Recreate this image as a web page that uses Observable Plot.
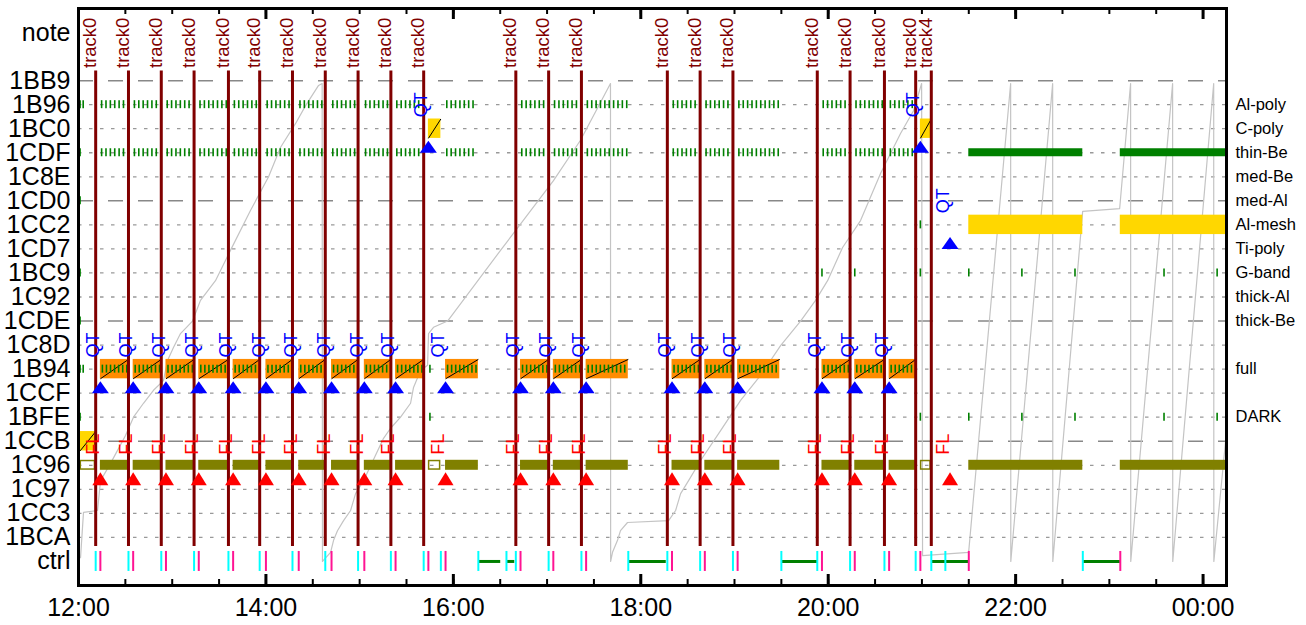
<!DOCTYPE html>
<html><head><meta charset="utf-8">
<script src="https://cdn.jsdelivr.net/npm/d3@7"></script>
<script src="https://cdn.jsdelivr.net/npm/@observablehq/plot@0.6"></script>
<style>body{margin:0;background:#fff;} svg{font-family:"Liberation Sans",Arial,sans-serif;}</style>
</head><body><div id="chart"></div>
<script>
// ---------- data ----------
const rows = ["ctrl","1BCA","1CC3","1C97","1C96","1CCB","1BFE","1CCF","1B94","1C8D","1CDE","1C92","1BC9","1CD7","1CC2","1CD0","1C8E","1CDF","1BC0","1B96","1BB9"];
const noteRow = "note";
const longDashRows = ["1BB9","1CD0","1CDE","1CCB"];
const filterLabels = [["Al-poly","1B96"],["C-poly","1BC0"],["thin-Be","1CDF"],["med-Be","1C8E"],["med-Al","1CD0"],["Al-mesh","1CC2"],["Ti-poly","1CD7"],["G-band","1BC9"],["thick-Al","1C92"],["thick-Be","1CDE"],["full","1B94"],["DARK","1BFE"]];
const xTickLabels = ["12:00","14:00","16:00","18:00","20:00","22:00","00:00"];
const xDomain = ["12:00","00:15"];

const tracks = [["12:11","track0"],["12:32","track0"],["12:53","track0"],["13:14","track0"],["13:36","track0"],["13:56","track0"],["14:17","track0"],["14:38","track0"],["14:59","track0"],["15:20","track0"],["15:41","track0"],["16:40","track0"],["17:01","track0"],["17:22","track0"],["18:17","track0"],["18:38","track0"],["18:59","track0"],["19:53","track0"],["20:14","track0"],["20:36","track0"],["20:56","track0"],["21:06","track4"]];

// regular cycles: QT start, end
const cycleStart = ["12:14","12:35","12:56","13:17","13:39","14:00","14:21","14:42","15:03","15:23","15:55","16:43","17:04","17:25","18:20","18:41","19:02","19:56","20:17","20:39"];
const cycleEnd   = ["12:32","12:53","13:14","13:36","13:56","14:17","14:38","14:59","15:20","15:41","16:16","17:01","17:22","17:52","18:38","18:59","19:29","20:14","20:36","20:56"];
// exposure offsets within a cycle (minutes after QT)
const fullOffsets = [1.3,3.9,6.5,9.1,11.7,14.3,16.9,19.5,22.1,24.7,27.3];
const polyOffsets = [0.8,3.6,6.4,9.2,12.0,14.8,17.6,20.4,23.2,26.0];

// special QT events: time, triangle row
const specialQT = [["15:44","1CDF"],["20:59","1CDF"],["21:18","1CD7"]];
const specialFL = [["21:18","1C97"]];

// small gold boxes [start,end,row]
const goldSmall = [["12:01","12:11","1CCB"],["15:44","15:52","1BC0"],["20:59","21:06","1BC0"]];
const oliveHollow = [["12:01","12:11"],["15:44","15:52"],["20:59","21:06"]];
// long blocks after 21:30
const longBlocks = [["21:30","22:43"],["23:07","00:15"]];

// single green ticks [time,row]
const singleTicks = [["12:01","1B96"],["12:03","1B96"],["12:01","1CDF"],["12:01","1CD0"],["12:01","1BC9"],["12:01","1CDE"],["12:01","1B94"],["12:03","1B94"],["12:01","1BFE"],
 ["15:45","1B94"],["15:45","1BFE"],["20:59","1CC2"],["20:59","1BFE"],["20:59","1BC9"],["20:36","1BC9"],["19:56","1BC9"],["20:17","1BC9"],
 ["21:30","1BC9"],["22:04","1BC9"],["22:38","1BC9"],["23:35","1BC9"],["00:09","1BC9"],
 ["21:30","1BFE"],["22:04","1BFE"],["22:38","1BFE"],["23:35","1BFE"],["00:09","1BFE"]];

// ctrl row
const ctrlCyan = ["12:11","12:32","12:53","13:14","13:36","13:56","14:17","14:38","14:59","15:20","15:41","15:52","16:16","16:34","16:40","17:01","17:22","17:52","18:17","18:38","18:59","19:30","19:53","20:14","20:36","20:56","21:06","21:15","22:43"];
const ctrlPink = ["12:14","12:35","12:56","13:17","13:39","14:00","14:21","14:42","15:03","15:23","15:44","15:55","16:43","17:04","17:25","18:20","18:41","19:02","19:56","20:17","20:39","20:59","21:30","23:07"];
const ctrlSpans = [["16:16","16:30"],["16:34","16:39"],["17:52","18:16"],["19:30","19:53"],["21:06","21:30"],["22:43","23:07"]];

// progress trace: minutes after 12:00, fraction
const traceMin = [1.3,3.2,12.2,14.1,20.5,25,30.1,35.2,41.6,48,54.4,57,60.8,65.3,73,78.1,87.7,97.3,110.1,121.7,129.3,139,145.4,153.7,156,156.2,
 161.4,163.3,165.8,169.7,174.2,177.4,182.5,195.3,199.8,206.2,212.6,214.5,219,223.5,224.1,227.3,236.3,270.2,304.1,321.4,340.6,340.7,
 341.9,345.1,347,351.5,377.8,382.3,385.5,390.6,398.3,411.1,423.9,436.7,449.5,462.3,471.9,479.6,489.2,500.7,513.5,526.3,534.7,539.8,540.4,569.9,
 596.8,596.9,623.7,623.8,642.9,666.6,673.6,673.7,700.5,700.6,726.8,726.9,735.7];
const traceFrac = [0.008,0.102,0.106,0.168,0.204,0.231,0.262,0.30,0.329,0.356,0.376,0.418,0.445,0.474,0.50,0.543,0.584,0.647,0.73,0.80,0.861,0.911,0.948,0.99,0.994,0.0,
 0.019,0.044,0.064,0.085,0.106,0.141,0.168,0.256,0.277,0.30,0.329,0.362,0.397,0.408,0.474,0.487,0.50,0.647,0.792,0.876,0.994,0.0,
 0.019,0.044,0.064,0.081,0.085,0.106,0.141,0.168,0.21,0.272,0.335,0.387,0.449,0.50,0.543,0.584,0.653,0.709,0.807,0.89,0.938,0.994,0.012,0.019,
 0.994,0.0,0.994,0.0,0.728,0.734,0.994,0.0,0.994,0.0,0.994,0.0,0.293];

// ---------- helpers ----------
const toMin = s => { const [h,m] = s.split(":").map(Number); let t = h*60 + m - 720; if (t < 0) t += 1440; return t; };
const Y = r => r === noteRow ? 22 : rows.indexOf(r);
const x0 = toMin(xDomain[0]), x1 = toMin(xDomain[1]);
const yLo = -1, yHi = 23;

const cycles = cycleStart.map((s,i) => ({s: toMin(s), e: toMin(cycleEnd[i])}));
const ticksFor = offs => cycles.flatMap(c => offs.filter(o => c.s + o < c.e - 0.6).map(o => c.s + o));
const greenTicks = [
  ...["1B96","1CDF"].flatMap(r => ticksFor(polyOffsets).map(t => ({t, r: Y(r)}))),
  ...ticksFor(fullOffsets).map(t => ({t, r: Y("1B94")})),
  ...singleTicks.map(([t,r]) => ({t: toMin(t), r: Y(r)}))
];
const qtEvents = [...cycles.map(c => ({t: c.s, r: Y("1CCF")})), ...specialQT.map(([t,r]) => ({t: toMin(t), r: Y(r)}))];
const flEvents = [...cycles.map(c => ({t: c.s, r: Y("1C97")})), ...specialFL.map(([t,r]) => ({t: toMin(t), r: Y(r)}))];
const trace = traceMin.map((m,i) => ({m, v: traceFrac[i]*20}));
const trackData = tracks.map(([t,n]) => ({t: toMin(t), n}));

const triBlue = {draw(ctx){ ctx.moveTo(0,-12); ctx.lineTo(8.5,0); ctx.lineTo(-8.5,0); ctx.closePath(); }};
const triRed = {draw(ctx){ ctx.moveTo(0,-13); ctx.lineTo(8,0); ctx.lineTo(-8,0); ctx.closePath(); }};

const rowsDot = rows.filter(r => r !== "ctrl" && !longDashRows.includes(r));
const majorT = xTickLabels.map(toMin);
const minorT = d3.range(x0, x1 + 1, 30);
const pxU = 577 / (yHi - yLo); // px per y unit

const halfBar = 9.7 / pxU, halfOl = 5 / pxU, halfGr = 4 / pxU, halfTk = 4 / pxU;

const plot = Plot.plot({
  width: 1306, height: 625,
  marginLeft: 78, marginRight: 80, marginTop: 8, marginBottom: 40,
  x: {domain: [x0, x1], axis: null},
  y: {domain: [yLo, yHi], axis: null},
  style: {fontFamily: '"Liberation Sans", Arial, sans-serif', background: "#fff", overflow: "visible"},
  marks: [
    // grid
    Plot.ruleY(rowsDot, {y: Y, stroke: "#999", strokeWidth: 1.3, strokeDasharray: "3.5,7.5"}),
    Plot.ruleY(longDashRows, {y: Y, stroke: "#888", strokeWidth: 1.5, strokeDasharray: "15,15"}),
    // gray progress trace
    Plot.line(trace, {x: "m", y: "v", stroke: "#c4c4c4", strokeWidth: 1.2, clip: true}),
    // orange and olive blocks
    Plot.rect(cycles, {x1: "s", x2: "e", y1: Y("1B94") - halfBar, y2: Y("1B94") + halfBar, fill: "#ff8c00"}),
    Plot.rect(cycles, {x1: "s", x2: "e", y1: Y("1C96") - halfOl, y2: Y("1C96") + halfOl, fill: "#808000"}),
    Plot.rect(longBlocks, {x1: d => toMin(d[0]), x2: d => toMin(d[1]), y1: Y("1C96") - halfOl, y2: Y("1C96") + halfOl, fill: "#808000", clip: true}),
    Plot.rect(longBlocks, {x1: d => toMin(d[0]), x2: d => toMin(d[1]), y1: Y("1CC2") - halfBar, y2: Y("1CC2") + halfBar, fill: "#ffd700", clip: true}),
    Plot.rect(longBlocks, {x1: d => toMin(d[0]), x2: d => toMin(d[1]), y1: Y("1CDF") - halfGr, y2: Y("1CDF") + halfGr, fill: "#008000", clip: true}),
    Plot.rect(goldSmall, {x1: d => toMin(d[0]), x2: d => toMin(d[1]), y1: d => Y(d[2]) - halfBar, y2: d => Y(d[2]) + halfBar, fill: "#ffd700"}),
    Plot.rect(oliveHollow, {x1: d => toMin(d[0]), x2: d => toMin(d[1]), y1: Y("1C96") - halfOl, y2: Y("1C96") + halfOl, fill: "none", stroke: "#808000", strokeWidth: 1.5, inset: 0.75}),
    // diagonals
    Plot.link(cycles, {x1: "s", x2: "e", y1: Y("1B94") - halfBar, y2: Y("1B94") + halfBar, stroke: "black", strokeWidth: 1}),
    Plot.link(goldSmall, {x1: d => toMin(d[0]), x2: d => toMin(d[1]), y1: d => Y(d[2]) - halfBar, y2: d => Y(d[2]) + halfBar, stroke: "black", strokeWidth: 1}),
    // green ticks
    Plot.ruleX(greenTicks, {x: "t", y1: d => d.r - halfTk, y2: d => d.r + halfTk, stroke: "#008000", strokeWidth: 1.6}),
    // ctrl
    Plot.link(ctrlSpans, {x1: d => toMin(d[0]), x2: d => toMin(d[1]), y1: 0, y2: 0, stroke: "#008000", strokeWidth: 3}),
    Plot.ruleX(ctrlCyan, {x: toMin, y1: -10 / pxU, y2: 10 / pxU, stroke: "#00ffff", strokeWidth: 2}),
    Plot.ruleX(ctrlPink, {x: toMin, y1: -10 / pxU, y2: 10 / pxU, stroke: "#ff1493", strokeWidth: 2}),
    // track lines
    Plot.ruleX(trackData, {x: "t", y1: 0.62, y2: 20.4, stroke: "#800000", strokeWidth: 3}),
    Plot.text(trackData, {x: "t", y: 20.4, text: "n", rotate: -90, textAnchor: "start", dx: -5.5, dy: -3, fill: "#800000", fontSize: 18.5}),
    // left purple edge
    Plot.ruleX([x0], {y1: 0.5, y2: 20.4, stroke: "#5a005a", strokeWidth: 2}),
    // triangles + labels
    Plot.dot(qtEvents, {x: "t", y: "r", symbol: triBlue, fill: "#0000ff", stroke: "none"}),
    Plot.text(qtEvents, {x: "t", y: d => d.r + 2, text: () => "QT", rotate: -90, dx: -7, fill: "#0000ff", fontSize: 18}),
    Plot.dot(flEvents, {x: "t", y: "r", dy: -4, symbol: triRed, fill: "#ff0000", stroke: "none"}),
    Plot.text(flEvents, {x: "t", y: d => d.r + 2, dy: 3, text: () => "FL", rotate: -90, dx: -7, fill: "#ff0000", fontSize: 18}),
    // frame and ticks
    Plot.frame({stroke: "black", strokeWidth: 3}),
    Plot.ruleX(majorT, {x: d => d, y1: yLo, y2: yLo + 11 / pxU, stroke: "black", strokeWidth: 3}),
    Plot.ruleX(majorT, {x: d => d, y1: yHi, y2: yHi - 11 / pxU, stroke: "black", strokeWidth: 3}),
    Plot.ruleX(minorT, {x: d => d, y1: yLo, y2: yLo + 6 / pxU, stroke: "black", strokeWidth: 2}),
    Plot.ruleX(minorT, {x: d => d, y1: yHi, y2: yHi - 6 / pxU, stroke: "black", strokeWidth: 2}),
    // axes
    Plot.axisY([...rows.map((r,i) => i), 22], {tickFormat: i => i === 22 ? noteRow : rows[i], tickSize: 0, tickPadding: 8, fontSize: 25, label: null, fill: "black"}),
    Plot.axisX(majorT, {tickFormat: m => xTickLabels[majorT.indexOf(m)], tickSize: 0, tickPadding: 13, fontSize: 25, label: null, fill: "black"}),
    Plot.text(filterLabels, {x: x1, y: d => Y(d[1]), text: d => d[0], textAnchor: "start", dx: 9, fontSize: 16.5, fill: "black"})
  ]
});
document.getElementById("chart").appendChild(plot);
</script></body></html>
